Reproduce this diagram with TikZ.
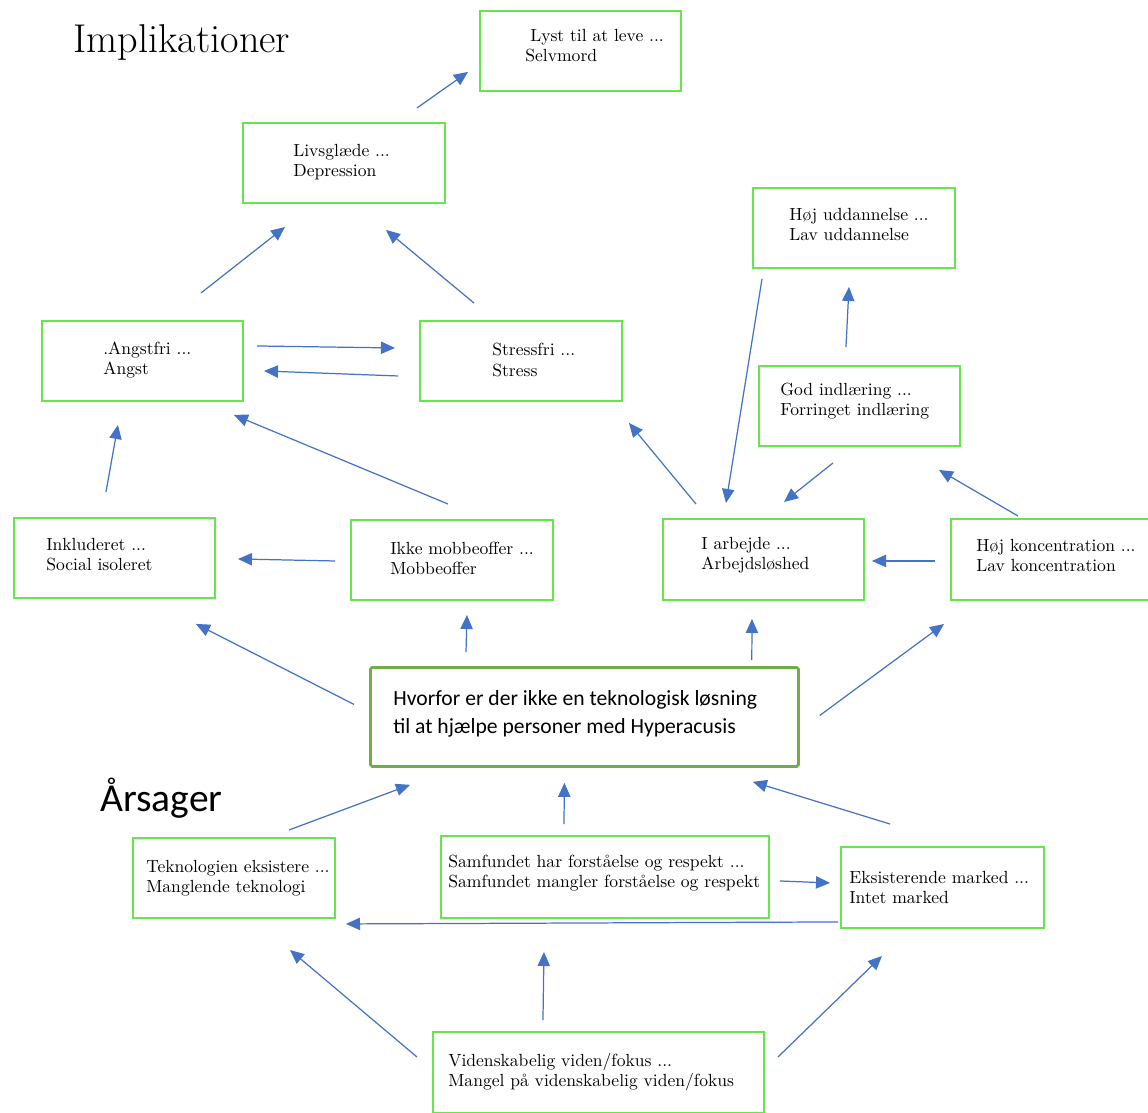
\documentclass[tikz,border=0pt]{standalone}
\usepackage{fontspec}
\newfontfamily\calibri{Carlito}
\usetikzlibrary{arrows.meta,positioning}
\definecolor{boxgreen}{HTML}{66E64D}
\definecolor{maingreen}{HTML}{70AD47}
\definecolor{arrblue}{HTML}{4472C4}
\tikzset{
  box/.style={draw=boxgreen, line width=1.1pt, anchor=north west, inner sep=0pt},
  txt/.style={anchor=west, align=left, inner sep=0pt, font=\fontsize{10}{11.4}\selectfont},
  arr/.style={draw=arrblue, line width=0.7pt, -{Triangle[length=8pt,width=7pt]}}
}
\begin{document}
\begin{tikzpicture}[x=0.02cm, y=-0.02cm]
\useasboundingbox (0,0) rectangle (1148,1112);

% Headings
\node[anchor=base west, inner sep=0pt, font=\fontsize{22.9}{26}\selectfont] (impl) at (73,52) {Implikationer};
\node[anchor=base west, inner sep=0pt, font=\calibri\fontsize{22.5}{26}\selectfont] (aars) at (100,811) {Årsager};

% Boxes
\node[box, minimum width=201*0.02cm, minimum height=80*0.02cm] (lyst) at (479,10) {};
\node[box, minimum width=202*0.02cm, minimum height=80*0.02cm] (liv) at (242,122) {};
\node[box, minimum width=201*0.02cm, minimum height=80*0.02cm] (angst) at (41,320) {};
\node[box, minimum width=202*0.02cm, minimum height=80*0.02cm] (stress) at (419,320) {};
\node[box, minimum width=202*0.02cm, minimum height=80*0.02cm] (udd) at (752,187) {};
\node[box, minimum width=201*0.02cm, minimum height=80*0.02cm] (god) at (758,365) {};
\node[box, minimum width=201*0.02cm, minimum height=80*0.02cm] (inkl) at (13,517) {};
\node[box, minimum width=202*0.02cm, minimum height=80*0.02cm] (ikke) at (350,519) {};
\node[box, minimum width=201*0.02cm, minimum height=81*0.02cm] (arb) at (662,518) {};
\node[box, minimum width=202*0.02cm, minimum height=81*0.02cm] (konc) at (950,518) {};
\node[box, draw=maingreen, line width=1.6pt, rounded corners=1pt, minimum width=428*0.02cm, minimum height=99*0.02cm] (cen) at (369,666) {};
\node[box, minimum width=202*0.02cm, minimum height=80*0.02cm] (tek) at (132,837) {};
\node[box, minimum width=328*0.02cm, minimum height=82*0.02cm] (samf) at (440,835) {};
\node[box, minimum width=203*0.02cm, minimum height=81*0.02cm] (eks) at (840,846) {};
\node[box, minimum width=331*0.02cm, minimum height=81*0.02cm] (vid) at (432,1031) {};

% Texts
\node[txt] (lyst-t) at (525,46) {\hspace*{2.8pt}Lyst til at leve ...\\Selvmord};
\node[txt] (liv-t) at (293,162) {Livsglæde ...\\Depression};
\node[txt] (angst-t) at (103,360) {.Angstfri ...\\Angst};
\node[txt] (stress-t) at (492,360) {Stressfri ...\\Stress};
\node[txt] (udd-t) at (789,224.5) {Høj uddannelse ...\\Lav uddannelse};
\node[txt] (god-t) at (780,401) {God indlæring ...\\Forringet indlæring};
\node[txt] (inkl-t) at (46,555) {Inkluderet ...\\Social isoleret};
\node[txt] (ikke-t) at (390,558) {Ikke mobbeoffer ...\\Mobbeoffer};
\node[txt] (arb-t) at (701,555) {I arbejde ...\\Arbejdsløshed};
\node[txt] (konc-t) at (976,555.5) {Høj koncentration ...\\Lav koncentration};
\node[txt, font=\calibri\fontsize{12.3}{15.6}\selectfont] (cen-t) at (393,714) {Hvorfor er der ikke en teknologisk løsning\\til at hjælpe personer med Hyperacusis};
\node[txt] (tek-t) at (146,878) {Teknologien eksistere ...\\Manglende teknologi};
\node[txt] (samf-t) at (448,873) {Samfundet har forståelse og respekt ...\\Samfundet mangler forståelse og respekt};
\node[txt] (eks-t) at (849,887) {Eksisterende marked ...\\Intet marked};
\node[txt] (vid-t) at (448,1072) {Videnskabelig viden/fokus ...\\Mangel på videnskabelig viden/fokus};

% Implikationer
\draw[arr] ([shift={(-29,-14)}]liv.north east) -- ([shift={(-11,-20)}]lyst.south west);
\draw[arr] ([shift={(58.5,-27)}]angst.north) -- ([shift={(43,23)}]liv.south west);
\draw[arr] ([shift={(-47,-17)}]stress.north) -- ([shift={(42,26)}]liv.south);
\draw[arr] ([shift={(13,-15)}]angst.east) -- ([shift={(-24,-13)}]stress.west);
\draw[arr] ([shift={(-21,15)}]stress.west) -- ([shift={(20,10)}]angst.east);
\draw[arr] ([shift={(-8.5,-25)}]inkl.north) -- ([shift={(-24.5,23)}]angst.south);
\draw[arr] ([shift={(-4,-15)}]ikke.north) -- ([shift={(-10,13)}]angst.south east);
\draw[arr] ([shift={(-15,1)}]ikke.west) -- ([shift={(22,1)}]inkl.east);
\draw[arr] ([shift={(34,-14)}]arb.north west) -- ([shift={(6,21)}]stress.south east);
\draw[arr] ([shift={(10,10)}]udd.south west) -- ([shift={(-37.5,-15)}]arb.north);
\draw[arr] ([shift={(-13.5,-18)}]god.north) -- ([shift={(-5,18)}]udd.south);
\draw[arr] ([shift={(-26.5,16)}]god.south) -- ([shift={(20.5,-16)}]arb.north);
\draw[arr] ([shift={(68,-2)}]konc.north west) -- ([shift={(-22,23)}]god.south east);
\draw[arr] ([shift={(-15,1.5)}]konc.west) -- ([shift={(7,1.5)}]arb.east);
\draw[arr] ([shift={(-15,-12.5)}]cen.west) -- ([shift={(81.5,25)}]inkl.south);
\draw[arr] ([shift={(97,-14)}]cen.north west) -- ([shift={(15,14)}]ikke.south);
\draw[arr] ([shift={(-48,-6)}]cen.north east) -- ([shift={(-11.5,18)}]arb.south);
\draw[arr] ([shift={(20,-1.5)}]cen.east) -- ([shift={(-6,23)}]konc.south west);

% Aarsager
\draw[arr] ([shift={(55,-7)}]tek.north) -- ([shift={(41,17)}]cen.south west);
\draw[arr] ([shift={(-41,-11)}]samf.north) -- ([shift={(-20,15)}]cen.south);
\draw[arr] ([shift={(-52.5,-22)}]eks.north) -- ([shift={(-47,14)}]cen.south east);
\draw[arr] ([shift={(10,4)}]samf.east) -- ([shift={(-10,-4.5)}]eks.west);
\draw[arr] ([shift={(-2,-7)}]eks.south west) -- ([shift={(10,5)}]tek.south east);
\draw[arr] ([shift={(-15,26)}]vid.north west) -- ([shift={(56,31)}]tek.south);
\draw[arr] ([shift={(-55.5,-11)}]vid.north) -- ([shift={(-61,33)}]samf.south);
\draw[arr] ([shift={(13,26)}]vid.north east) -- ([shift={(-60.5,27)}]eks.south);

\end{tikzpicture}
\end{document}
